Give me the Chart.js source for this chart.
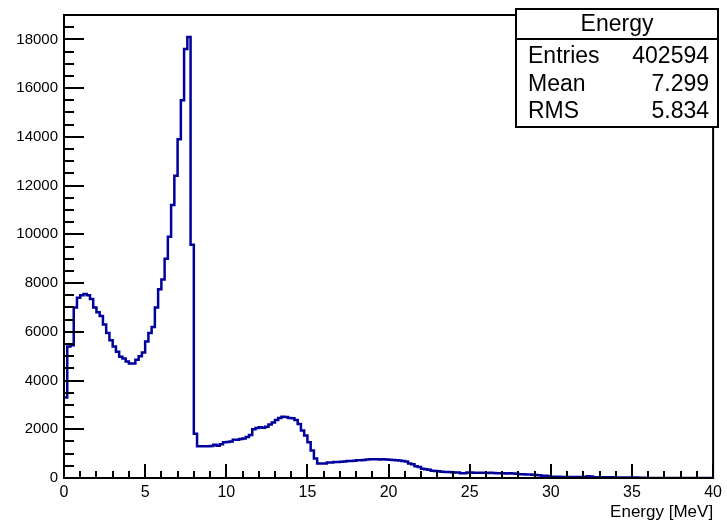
<!DOCTYPE html>
<html>
<head>
<meta charset="utf-8">
<script src="https://cdn.jsdelivr.net/npm/chart.js@4.4.1/dist/chart.umd.min.js"></script>
<style>
  body { margin: 0; background: #fff; }
  canvas { display: block; }
</style>
</head>
<body>
<canvas id="graph" width="727" height="524"></canvas>
<script>
// histogram "Energy": 200 bins of 0.2 MeV from 0 to 40 MeV
var binLow = 0;
var binWidth = 0.2;
var counts = [
  3300, 5400, 5450, 7000, 7400, 7500, 7550, 7500, 7350, 7000,
  6800, 6650, 6300, 5950, 5650, 5400, 5180, 4980, 4900, 4780,
  4700, 4700, 4850, 5000, 5150, 5600, 5950, 6200, 7000, 7750,
  8150, 9000, 9900, 11200, 12400, 13900, 15500, 17600, 18100, 9570,
  1820, 1300, 1300, 1300, 1300, 1310, 1360, 1320, 1380, 1470,
  1480, 1500, 1570, 1570, 1600, 1620, 1680, 1760, 2000, 2050,
  2080, 2060, 2100, 2200, 2280, 2380, 2460, 2510, 2500, 2460,
  2450, 2380, 2220, 1950, 1740, 1470, 1130, 800, 600, 590,
  600, 640, 640, 660, 660, 670, 680, 700, 700, 710,
  730, 730, 740, 760, 770, 770, 770, 760, 770, 760,
  750, 740, 730, 720, 700, 680, 600, 560, 480, 450,
  380, 360, 340, 300, 290, 280, 255, 250, 250, 240,
  230, 230, 190, 200, 225, 230, 220, 215, 220, 215,
  210, 215, 210, 200, 190, 190, 185, 190, 180, 170,
  150, 150, 145, 140, 135, 120, 110, 95, 90, 70,
  55, 50, 48, 45, 45, 42, 40, 40, 38, 38,
  40, 70, 65, 35, 35, 32, 30, 30, 28, 28,
  25, 25, 22, 22, 20, 20, 18, 15, 12, 0,
  0, 0, 0, 0, 0, 0, 0, 0, 0, 0,
  0, 0, 0, 0, 0, 0, 0, 0, 0, 0
];
var xTicks = [0, 5, 10, 15, 20, 25, 30, 35, 40];
var yTicks = [0, 2000, 4000, 6000, 8000, 10000, 12000, 14000, 16000, 18000];
var statLabels = ["Entries", "Mean", "RMS"];
var statValues = ["402594", "7.299", "5.834"];
var histTitle = "Energy";
var xTitle = "Energy [MeV]";

var sans = "'Liberation Sans', Arial, sans-serif";

// bin outline: one point on each lower edge, plus the upper edge of the last bin
var points = counts.map(function (c, i) {
  return { x: binLow + i * binWidth, y: c };
});
points.push({ x: binLow + counts.length * binWidth, y: counts[counts.length - 1] });

// ROOT style frame, inward ticks and the stats box
var rootFrame = {
  id: "rootFrame",
  afterDatasetsDraw: function (chart) {
    var ctx = chart.ctx;
    var a = chart.chartArea;
    var xs = chart.scales.x, ys = chart.scales.y;
    ctx.save();
    ctx.strokeStyle = "#000";
    ctx.lineWidth = 2;
    ctx.beginPath();
    for (var v = 0; v <= 19000; v += 500) {
      var py = Math.round(ys.getPixelForValue(v));
      var len = v % 2000 === 0 ? 20 : 10;
      ctx.moveTo(a.left, py);
      ctx.lineTo(a.left + len, py);
    }
    for (var e = 0; e <= 40; e += 1) {
      var px = Math.round(xs.getPixelForValue(e));
      var l2 = e % 5 === 0 ? 14 : 7;
      ctx.moveTo(px, a.bottom);
      ctx.lineTo(px, a.bottom - l2);
    }
    ctx.stroke();
    ctx.strokeRect(a.left, a.top, a.right - a.left, a.bottom - a.top);
    ctx.restore();
  },
  afterDraw: function (chart) {
    var ctx = chart.ctx;
    var bx = 516, by = 9, bw = 202, bh = 118;
    ctx.save();
    ctx.fillStyle = "#fff";
    ctx.fillRect(bx, by, bw, bh);
    ctx.strokeStyle = "#000";
    ctx.lineWidth = 2;
    ctx.strokeRect(bx, by, bw, bh);
    ctx.beginPath();
    ctx.moveTo(bx, 39);
    ctx.lineTo(bx + bw, 39);
    ctx.stroke();
    ctx.fillStyle = "#000";
    ctx.font = "23px " + sans;
    ctx.textBaseline = "alphabetic";
    ctx.textAlign = "center";
    ctx.fillText(histTitle, bx + bw / 2, 31);
    var rows = [63, 91, 118];
    for (var i = 0; i < statLabels.length; i++) {
      ctx.textAlign = "left";
      ctx.fillText(statLabels[i], 528, rows[i]);
      ctx.textAlign = "right";
      ctx.fillText(statValues[i], 709, rows[i]);
    }
    ctx.restore();
  }
};

var ctx = document.getElementById("graph").getContext("2d");
new Chart(ctx, {
  type: "line",
  data: {
    datasets: [{
      label: histTitle,
      data: points,
      stepped: true,
      borderColor: "rgb(0,0,155)",
      borderWidth: 2.5,
      pointRadius: 0,
      fill: false
    }]
  },
  options: {
    responsive: false,
    animation: false,
    devicePixelRatio: 1,
    layout: { padding: { top: 10, right: 10, left: 0, bottom: 0 } },
    plugins: { legend: { display: false }, tooltip: { enabled: false } },
    scales: {
      x: {
        type: "linear",
        min: 0,
        max: 40,
        grid: { display: false, drawTicks: false, tickLength: 0 },
        border: { display: false },
        afterBuildTicks: function (s) {
          s.ticks = xTicks.map(function (v) { return { value: v }; });
        },
        ticks: {
          padding: 5,
          maxRotation: 0,
          autoSkip: false,
          color: "#000",
          font: { family: sans, size: 16 },
          callback: function (v) { return String(v); }
        },
        title: {
          display: true,
          text: xTitle,
          align: "end",
          color: "#000",
          padding: { top: 0, bottom: 1 },
          font: { family: sans, size: 17 }
        },
        afterFit: function (s) { s.height = 46; }
      },
      y: {
        type: "linear",
        min: 0,
        max: 19000,
        grid: { display: false, drawTicks: false, tickLength: 0 },
        border: { display: false },
        afterBuildTicks: function (s) {
          s.ticks = yTicks.map(function (v) { return { value: v }; });
        },
        ticks: {
          padding: 6,
          autoSkip: false,
          color: "#000",
          font: { family: sans, size: 15 },
          callback: function (v) { return String(v); }
        },
        afterFit: function (s) { s.width = 64; }
      }
    }
  },
  plugins: [rootFrame]
});
</script>
</body>
</html>
